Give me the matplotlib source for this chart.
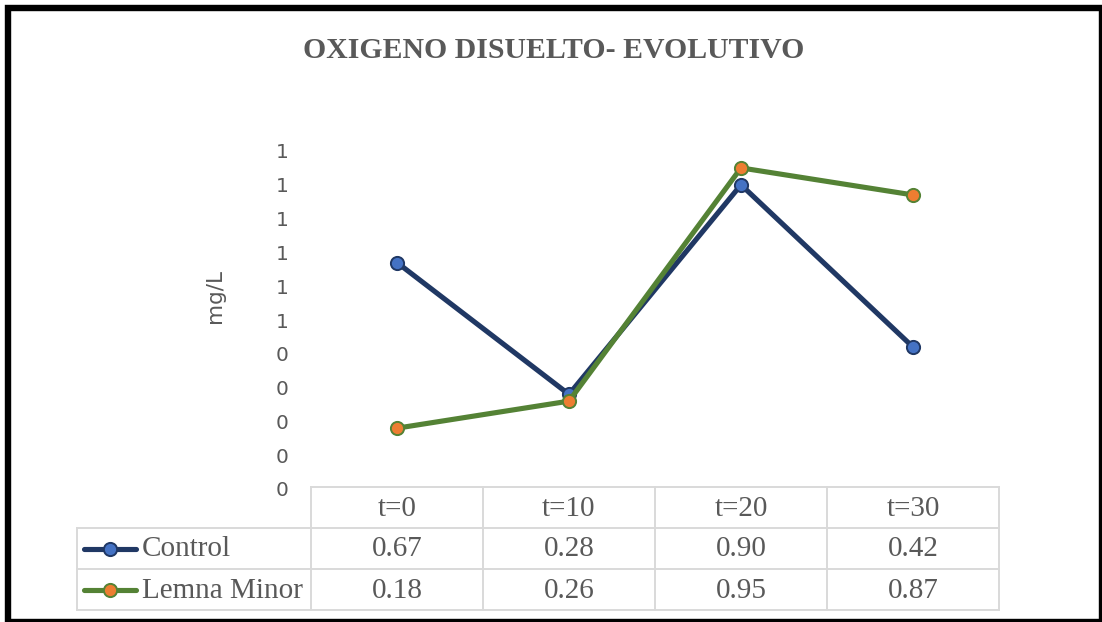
import numpy as np
import matplotlib.pyplot as plt
from matplotlib.lines import Line2D
from matplotlib.patches import Rectangle
from matplotlib.ticker import FuncFormatter, MultipleLocator

categories = ["t=0", "t=10", "t=20", "t=30"]
series_names = ["Control", "Lemna Minor"]
control = [0.67, 0.28, 0.90, 0.42]
lemna = [0.18, 0.26, 0.95, 0.87]

line_colors = ["#203864", "#548235"]
marker_colors = ["#4472C4", "#ED7D31"]
gray = "#595959"
grid_gray = "#D9D9D9"

W, H = 1102, 622
fig = plt.figure(figsize=(W / 100, H / 100), dpi=100)

# frame of the whole chart (runs off the right and bottom edges)
fig.add_artist(Rectangle((8 / W, 0 / H), (W - 8) / W, (H - 8) / H,
                         transform=fig.transFigure, fill=False,
                         edgecolor="black", linewidth=4.6, clip_on=False))

# pixel-space overlay for title, axis title and data table
ov = fig.add_axes([0, 0, 1, 1])
ov.set_xlim(0, W)
ov.set_ylim(H, 0)
ov.axis("off")

ov.text(554, 51, "OXIGENO DISUELTO- EVOLUTIVO", ha="center", va="center",
        fontsize=21.4, fontweight="bold", family="Liberation Serif", color=gray)
ov.text(215, 296, "mg/L", rotation=90, ha="center", va="center",
        fontsize=15.5, family="DejaVu Sans", color=gray)

# plot area
x0, x1, ytop, ybot = 311, 999, 151, 489
ax = fig.add_axes([x0 / W, (H - ybot) / H, (x1 - x0) / W, (ybot - ytop) / H])
ax.patch.set_alpha(0)
ax.set_xlim(-0.5, len(categories) - 0.5)
ax.set_ylim(0, 1)
for s in ax.spines.values():
    s.set_visible(False)
ax.set_xticks([])
ax.yaxis.set_major_locator(MultipleLocator(0.1))
ax.yaxis.set_major_formatter(FuncFormatter(lambda v, p: f"{int(np.floor(v + 0.5 + 1e-9))}"))
ax.tick_params(axis="y", length=0, pad=16, labelsize=14.5, labelcolor=gray)
for lab in ax.get_yticklabels():
    lab.set_family("DejaVu Sans")

xs = np.arange(len(categories))
for vals, lc, mc in zip([control, lemna], line_colors, marker_colors):
    ax.plot(xs, vals, color=lc, linewidth=3.7, marker="o", markersize=9.5,
            markerfacecolor=mc, markeredgecolor=lc, markeredgewidth=1.4,
            clip_on=False, solid_capstyle="round")

# data table below the plot
col_w = (x1 - x0) / len(categories)
rows_y = [487, 528, 569, 610]
lab_x = 77
lw = 1.4
ov.plot([x0, x1], [rows_y[0], rows_y[0]], color=grid_gray, lw=lw)
for y in rows_y[1:]:
    ov.plot([lab_x, x1], [y, y], color=grid_gray, lw=lw)
ov.plot([lab_x, lab_x], [rows_y[1], rows_y[3]], color=grid_gray, lw=lw)
for i in range(len(categories) + 1):
    xx = x0 + i * col_w
    ov.plot([xx, xx], [rows_y[0], rows_y[3]], color=grid_gray, lw=lw)

tfont = dict(family="Liberation Serif", fontsize=21, color=gray,
             ha="center", va="center")
for i, c in enumerate(categories):
    ov.text(x0 + (i + 0.5) * col_w, (rows_y[0] + rows_y[1]) / 2 + 1, c, **tfont)

for r, (name, vals) in enumerate(zip(series_names, [control, lemna])):
    yc = (rows_y[r + 1] + rows_y[r + 2]) / 2
    ov.add_line(Line2D([84, 136], [yc, yc], color=line_colors[r], lw=3.7,
                       solid_capstyle="round"))
    ov.plot([110], [yc], marker="o", markersize=9.5, markerfacecolor=marker_colors[r],
            markeredgecolor=line_colors[r], markeredgewidth=1.4)
    ov.text(142, yc + 1, name, family="Liberation Serif", fontsize=21, color=gray,
            ha="left", va="center")
    for i, v in enumerate(vals):
        ov.text(x0 + (i + 0.5) * col_w, yc + 1, f"{v:.2f}", **tfont)

fig.savefig("out.png", dpi=100)
